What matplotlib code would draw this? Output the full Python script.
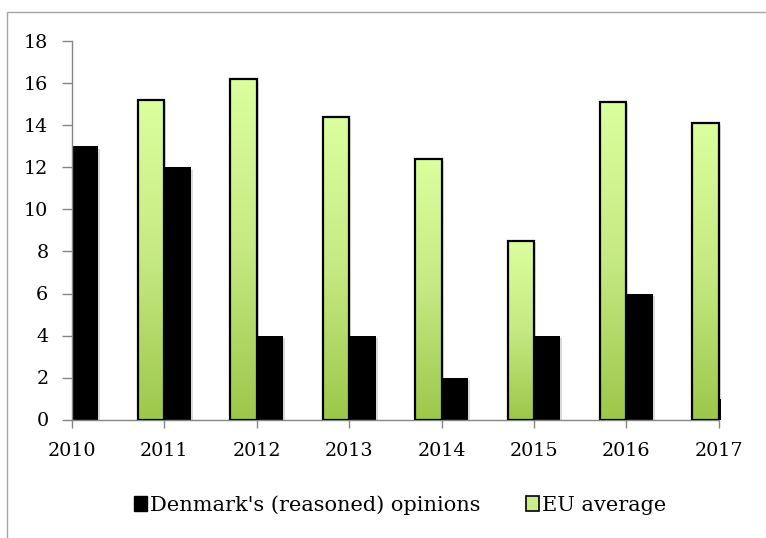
"""Infringement opinions: Denmark vs EU average, 2010-2017."""

import matplotlib

matplotlib.use("Agg")
import matplotlib.pyplot as plt
import numpy as np
from matplotlib import patheffects
from matplotlib.colors import LinearSegmentedColormap
from matplotlib.patches import Patch, Rectangle

years = ["2010", "2011", "2012", "2013", "2014", "2015", "2016", "2017"]
denmark = [13, 12, 4, 4, 2, 4, 6, 1]
eu_average = [np.nan, 15.2, 16.2, 14.4, 12.4, 8.5, 15.1, 14.1]
y_ticks = [0, 2, 4, 6, 8, 10, 12, 14, 16, 18]
legend_labels = ["Denmark's (reasoned) opinions", "EU average"]

W, H = 766, 538
FONT = "DejaVu Serif"
FS = 13.8
LEGEND_FS = 15
GRAY = "#868686"

plt.rcParams["font.family"] = FONT

fig = plt.figure(figsize=(W / 100, H / 100), dpi=100)
ax = fig.add_axes([72 / W, 118.5 / H, (720.6 - 72) / W, (419.5 - 41.5) / H])

x = np.arange(len(years))
width = 0.285
shadow = [patheffects.SimplePatchShadow(offset=(1.5, -1.5), alpha=0.15), patheffects.Normal()]

eu_bars = ax.bar(x - width / 2, eu_average, width, align="center",
                 facecolor="#c4e57f", edgecolor="none", zorder=2)
dk_bars = ax.bar(x + width / 2, denmark, width, align="center",
                 facecolor="black", edgecolor="none", zorder=2)
for bar in dk_bars:
    bar.set_path_effects(shadow)

# vertical gradient fill for the EU bars, like the Excel original
gradient = np.linspace(0, 1, 256).reshape(-1, 1)
cmap = LinearSegmentedColormap.from_list("eu", ["#9cc84a", "#c6e983", "#dcff9e"])
for bar in eu_bars:
    h = bar.get_height()
    if not np.isfinite(h):
        continue
    x0, w = bar.get_x(), bar.get_width()
    bar.set_path_effects(shadow)
    im = ax.imshow(gradient, cmap=cmap, origin="lower", aspect="auto",
                   extent=(x0, x0 + w, 0, h), zorder=2.1, interpolation="bilinear")
    im.set_clip_path(bar)
    ax.add_patch(Rectangle((x0, 0), w, h, fill=False, edgecolor="black",
                           linewidth=1.6, zorder=3))

ax.set_xlim(0, len(years) - 1 + 0.02)
ax.set_ylim(0, 18)
ax.set_xticks(x)
ax.set_xticklabels(years)
ax.set_yticks(y_ticks)

for side in ("top", "right"):
    ax.spines[side].set_visible(False)
for side in ("left", "bottom"):
    ax.spines[side].set_color(GRAY)
    ax.spines[side].set_linewidth(1.0)
ax.spines["bottom"].set_bounds(0, len(years) - 1)

ax.tick_params(axis="y", direction="out", length=7, width=1, color=GRAY,
               labelsize=FS, pad=10)
ax.tick_params(axis="x", direction="out", length=6, width=1, color=GRAY,
               labelsize=FS, pad=10)

handles = [
    Patch(facecolor="black", edgecolor="black"),
    Patch(facecolor="#cbec8a", edgecolor="black", linewidth=1.2),
]
fig.legend(handles, legend_labels, loc="center", bbox_to_anchor=(400 / W, 1 - 505 / H),
           ncol=2, frameon=False, fontsize=LEGEND_FS, handlelength=0.6, handleheight=0.75,
           handletextpad=0.15, columnspacing=2.2)

# chart-area border (top and left visible in the crop)
fig.add_artist(Rectangle((7 / W, -0.05), 1.0, 1 - 12 / H + 0.05, transform=fig.transFigure,
                         fill=False, edgecolor="#a6a6a6", linewidth=1.0, clip_on=False))

fig.savefig("out.png", dpi=100)
